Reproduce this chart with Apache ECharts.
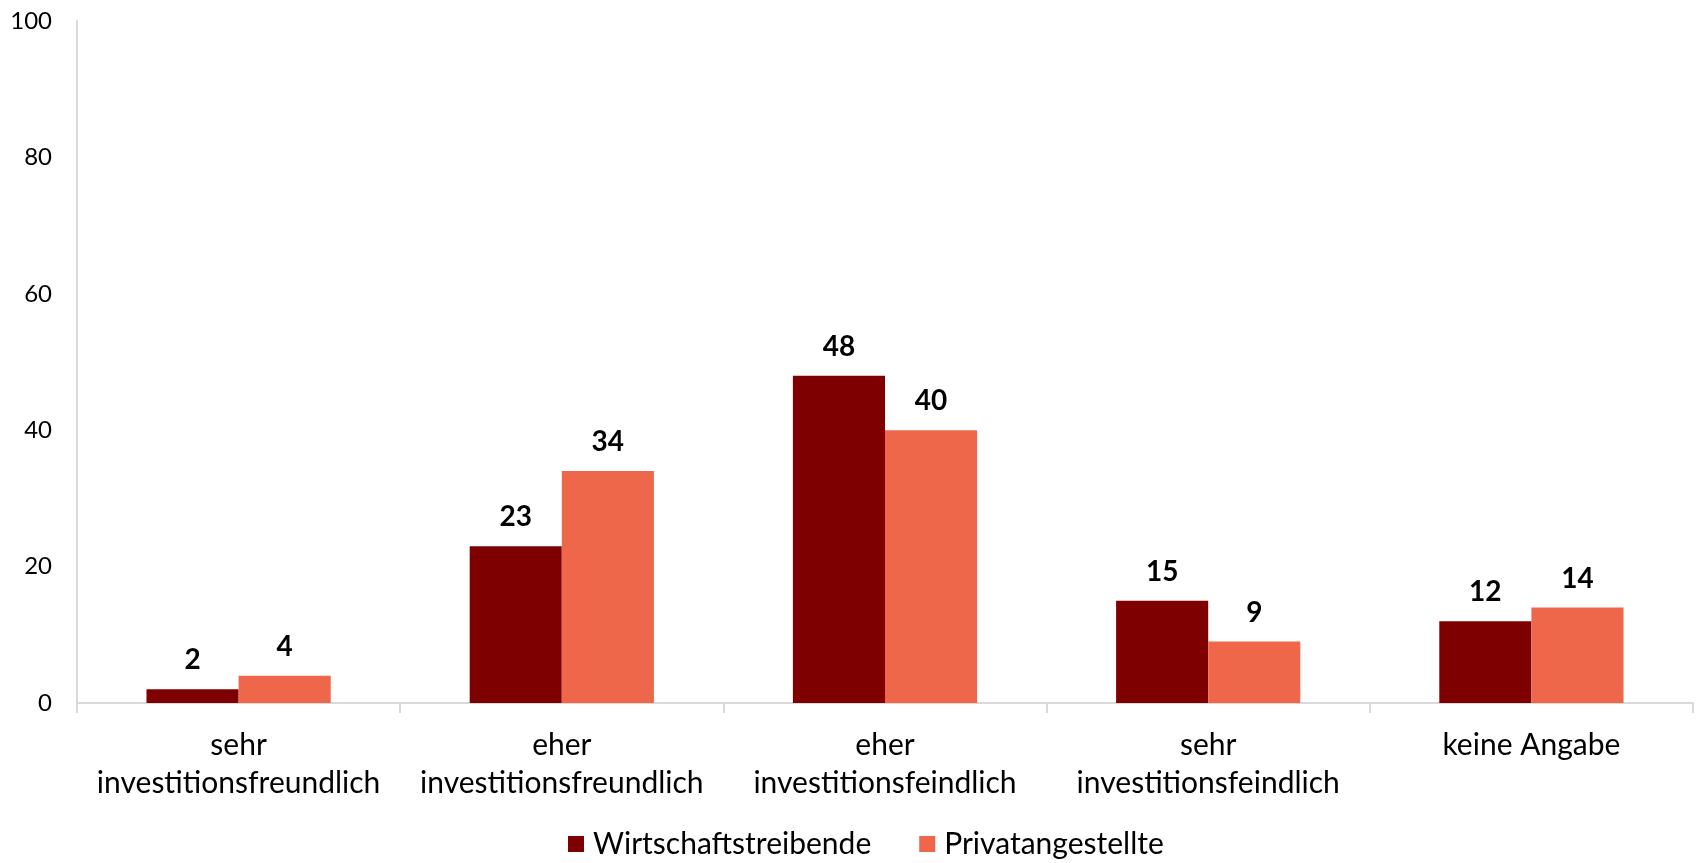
<!DOCTYPE html>
<html>
<head>
<meta charset="utf-8">
<script src="https://cdn.jsdelivr.net/npm/echarts@6/dist/echarts.min.js"></script>
<style>
html,body{margin:0;padding:0;background:#fff;}
#chart{width:1696px;height:863px;}
</style>
</head>
<body>
<div id="chart"></div>
<script>
const categories = ['sehr\ninvestitionsfreundlich','eher\ninvestitionsfreundlich','eher\ninvestitionsfeindlich','sehr\ninvestitionsfeindlich','keine Angabe'];
const seriesNames = ['Wirtschaftstreibende','Privatangestellte'];
const wirtschaftstreibende = [2,23,48,15,12];
const privatangestellte = [4,34,40,9,14];
const yTicks = {min:0,max:100,interval:20};

const font = 'Lato';
const chart = echarts.init(document.getElementById('chart'));
const labelCfg = {show:true,position:'top',distance:15,fontFamily:font,fontSize:28,fontWeight:'bold',color:'#000'};
chart.setOption({
  animation:false,
  grid:{left:77,right:3,top:21,bottom:160},
  legend:{
    data:seriesNames,top:824,left:563,itemWidth:16,itemHeight:16,itemGap:48,
    icon:'rect',
    textStyle:{fontFamily:font,fontSize:30,color:'#000',padding:[0,0,0,4]}
  },
  xAxis:{
    type:'category',data:categories,
    axisLine:{lineStyle:{color:'#D9D9D9',width:2}},
    axisTick:{show:true,length:10,lineStyle:{color:'#D9D9D9',width:2}},
    axisLabel:{fontFamily:font,fontSize:30,color:'#000',lineHeight:38,margin:23,interval:0}
  },
  yAxis:{
    type:'value',min:yTicks.min,max:yTicks.max,interval:yTicks.interval,
    axisLine:{show:true,lineStyle:{color:'#D9D9D9',width:2}},
    axisTick:{show:false},
    splitLine:{show:false},
    axisLabel:{fontFamily:font,fontSize:24,color:'#000',margin:25}
  },
  series:[
    {name:seriesNames[0],type:'bar',data:wirtschaftstreibende,barGap:'0%',barCategoryGap:'43%',itemStyle:{color:'#7F0000'},label:labelCfg},
    {name:seriesNames[1],type:'bar',data:privatangestellte,barGap:'0%',barCategoryGap:'43%',itemStyle:{color:'#EF674A'},label:labelCfg}
  ]
});
</script>
</body>
</html>
